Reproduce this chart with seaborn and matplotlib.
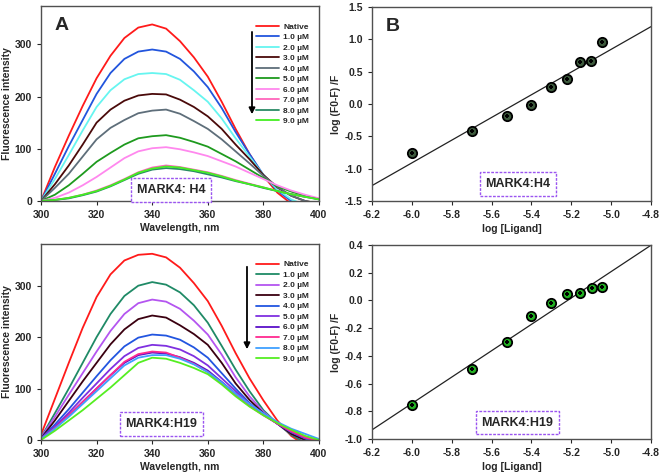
import matplotlib
matplotlib.use("Agg")
import matplotlib.pyplot as plt
import seaborn as sns
import numpy as np
import pandas as pd

### spectra : wavelength grid and intensities ###

wavelength = [300, 305, 310, 315, 320, 325, 330, 335, 340, 345, 350,
              355, 360, 365, 370, 375, 380, 385, 390, 395, 400]

conc_labels = ["Native", "1.0 µM", "2.0 µM", "3.0 µM", "4.0 µM",
               "5.0 µM", "6.0 µM", "7.0 µM", "8.0 µM", "9.0 µM"]

h4_native = [0, 65, 125, 182, 235, 278, 312, 332, 338, 330, 306, 275, 238, 190, 138, 90, 48, 16, -5, -20, -30]
h4_c1 = [0, 52, 105, 155, 205, 245, 272, 286, 290, 286, 272, 248, 218, 178, 132, 90, 50, 20, 0, -10, -20]
h4_c2 = [0, 42, 88, 135, 180, 212, 233, 243, 245, 243, 232, 212, 190, 158, 120, 85, 50, 22, 3, -8, -15]
h4_c3 = [0, 32, 68, 108, 150, 175, 192, 202, 205, 204, 194, 180, 162, 138, 108, 80, 50, 26, 10, 0, -5]
h4_c4 = [0, 25, 52, 85, 118, 140, 155, 168, 173, 175, 167, 153, 138, 118, 95, 72, 48, 27, 10, 0, -5]
h4_c5 = [0, 12, 30, 52, 75, 92, 108, 120, 124, 126, 121, 113, 104, 90, 76, 60, 44, 28, 18, 10, 3]
h4_c6 = [0, 6, 16, 30, 46, 64, 82, 95, 101, 103, 99, 93, 86, 76, 66, 54, 42, 30, 20, 12, 5]
h4_c7 = [0, 2, 6, 12, 20, 30, 42, 55, 64, 68, 65, 60, 55, 48, 40, 33, 26, 19, 13, 8, 4]
h4_c8 = [0, 2, 5, 11, 18, 28, 40, 52, 60, 63, 61, 57, 51, 45, 38, 32, 25, 19, 13, 8, 3]
h4_c9 = [0, 2, 6, 12, 19, 29, 41, 54, 62, 66, 64, 59, 54, 47, 39, 32, 26, 19, 13, 8, 3]

h19_native = [10, 80, 150, 218, 278, 322, 349, 360, 362, 355, 335, 305, 270, 222, 169, 120, 77, 38, 8, -10, -20]
h19_c1 = [5, 52, 100, 150, 200, 245, 280, 300, 307, 302, 287, 262, 228, 183, 137, 95, 58, 32, 10, -5, -15]
h19_c2 = [5, 45, 88, 130, 172, 212, 245, 266, 273, 269, 255, 232, 205, 166, 122, 85, 55, 32, 12, 0, -10]
h19_c3 = [3, 38, 76, 114, 150, 186, 215, 235, 242, 238, 223, 206, 185, 150, 110, 78, 52, 32, 12, 0, -8]
h19_c4 = [3, 30, 60, 92, 124, 155, 182, 199, 205, 203, 195, 180, 160, 130, 100, 72, 50, 32, 15, 3, -5]
h19_c5 = [3, 26, 53, 82, 110, 138, 163, 179, 185, 183, 176, 163, 145, 120, 95, 70, 50, 32, 16, 4, -3]
h19_c6 = [2, 23, 48, 74, 100, 126, 150, 165, 170, 168, 161, 150, 135, 113, 90, 68, 49, 32, 17, 5, -2]
h19_c7 = [2, 23, 48, 74, 100, 126, 152, 167, 172, 170, 160, 148, 132, 110, 88, 66, 48, 32, 17, 5, -2]
h19_c8 = [2, 22, 45, 70, 95, 120, 145, 160, 165, 165, 158, 147, 132, 112, 90, 70, 52, 35, 22, 12, 2]
h19_c9 = [0, 18, 38, 58, 80, 102, 126, 150, 160, 158, 150, 140, 128, 108, 85, 65, 48, 33, 20, 8, 0]

h4_colors = ["#ff1a1a", "#2255dd", "#66f5f0", "#4a0a0a", "#5e6e7a",
             "#1e9a1e", "#ff88ee", "#ff66bb", "#2a8a66", "#44ee22"]
h19_colors = ["#ff1a1a", "#1f8a66", "#b455f0", "#3a0010", "#2255e0",
              "#7f30e0", "#5a10c8", "#ff2a90", "#3fa0ff", "#55ee22"]

### double log plots ###

h4_logL = [-6.0, -5.7, -5.52, -5.4, -5.3, -5.22, -5.155, -5.1, -5.046]
h4_logF = [-0.76, -0.41, -0.18, -0.01, 0.26, 0.39, 0.65, 0.67, 0.96]
h19_logL = [-6.0, -5.7, -5.52, -5.4, -5.3, -5.22, -5.155, -5.097, -5.046]
h19_logF = [-0.755, -0.495, -0.30, -0.115, -0.02, 0.045, 0.055, 0.09, 0.095]

sns.set_style("ticks")
plt.rcParams["font.family"] = ["Liberation Sans", "DejaVu Sans"]
plt.rcParams["font.weight"] = "bold"
plt.rcParams["axes.labelweight"] = "bold"
plt.rcParams["axes.unicode_minus"] = False
plt.rcParams["axes.edgecolor"] = "#505050"
plt.rcParams["axes.linewidth"] = 1.0
plt.rcParams["xtick.major.size"] = 3
plt.rcParams["ytick.major.size"] = 3
plt.rcParams["xtick.labelsize"] = 7.5
plt.rcParams["ytick.labelsize"] = 7.5
plt.rcParams["axes.labelsize"] = 7.5

fig = plt.figure(figsize=(6.61, 4.74), dpi=100)
axA1 = fig.add_axes([0.062, 0.576, 0.4206, 0.411])
axB1 = fig.add_axes([0.5628, 0.576, 0.422, 0.409])
axA2 = fig.add_axes([0.062, 0.0717, 0.4206, 0.4135])
axB2 = fig.add_axes([0.5628, 0.0738, 0.422, 0.4093])

box_style = dict(boxstyle="square,pad=0.45", fc="white", ec="#9b55f0", lw=1.0, ls=(0, (2, 1)))


def spectra_panel(ax, series, colors, ymax, tag, tag_pos, arrow_x, arrow_y):
    rows = []
    for lab, vals in zip(conc_labels, series):
        for w, v in zip(wavelength, vals):
            rows.append((w, v, lab))
    df = pd.DataFrame(rows, columns=["WL", "I", "Conc"])
    sns.lineplot(data=df, x="WL", y="I", hue="Conc", hue_order=conc_labels,
                 palette=dict(zip(conc_labels, colors)), sort=False,
                 linewidth=1.3, ax=ax)
    ax.set_xlim(300, 400)
    ax.set_ylim(0, ymax)
    ax.set_xticks(range(300, 401, 20))
    ax.set_yticks([0, 100, 200, 300])
    ax.set_xlabel("Wavelength, nm", labelpad=2)
    ax.set_ylabel("Fluorescence intensity", labelpad=2)
    sns.move_legend(ax, "upper right", bbox_to_anchor=(0.985, 0.945), frameon=False,
                    title=None, fontsize=6, handlelength=2.8, handletextpad=0.5,
                    labelspacing=0.32, borderaxespad=0.3)
    ax.annotate("", xy=(arrow_x, arrow_y[1]), xytext=(arrow_x, arrow_y[0]),
                xycoords="axes fraction",
                arrowprops=dict(arrowstyle="-|>", color="black", lw=1.3,
                                mutation_scale=9))
    ax.text(tag_pos[0], tag_pos[1], tag, transform=ax.transAxes, ha="center",
            va="center", fontsize=9, fontweight="bold", bbox=box_style)


def hill_panel(ax, x, y, fill, ylim, yticks, tag, tag_pos):
    ax.set_xlim(-6.2, -4.8)
    ax.set_ylim(*ylim)
    sns.regplot(x=x, y=y, scatter=False, ci=None, truncate=False, color="#222222",
                line_kws={"lw": 0.9}, ax=ax)
    sns.scatterplot(x=x, y=y, s=45, color=fill, edgecolor="black", linewidth=1.3, ax=ax, zorder=3)
    sns.scatterplot(x=x, y=y, s=10, marker="P", color="black", linewidth=0, ax=ax, zorder=4)
    ax.set_xlim(-6.2, -4.8)
    ax.set_ylim(*ylim)
    ax.set_xticks(np.arange(-6.2, -4.79, 0.2))
    ax.set_xticklabels(["%.1f" % v for v in np.arange(-6.2, -4.79, 0.2)])
    ax.set_yticks(yticks)
    ax.set_yticklabels(["%.1f" % v for v in yticks])
    ax.set_xlabel("log [Ligand]", labelpad=3)
    ax.set_ylabel("log (F0-F) /F", labelpad=3)
    ax.text(tag_pos[0], tag_pos[1], tag, transform=ax.transAxes, ha="center",
            va="center", fontsize=9, fontweight="bold", bbox=box_style)


spectra_panel(axA1, [h4_native, h4_c1, h4_c2, h4_c3, h4_c4, h4_c5, h4_c6, h4_c7, h4_c8, h4_c9],
              h4_colors, 373, "MARK4: H4", (0.468, 0.056), 0.759, (0.882, 0.431))
spectra_panel(axA2, [h19_native, h19_c1, h19_c2, h19_c3, h19_c4, h19_c5, h19_c6, h19_c7, h19_c8, h19_c9],
              h19_colors, 381, "MARK4:H19", (0.433, 0.082), 0.741, (0.898, 0.449))

hill_panel(axB1, h4_logL, h4_logF, "#3d5a3d", (-1.5, 1.5), [-1.5, -1.0, -0.5, 0.0, 0.5, 1.0, 1.5],
           "MARK4:H4", (0.523, 0.088))
hill_panel(axB2, h19_logL, h19_logF, "#22b022", (-1.0, 0.4), [-1.0, -0.8, -0.6, -0.4, -0.2, 0.0, 0.2, 0.4],
           "MARK4:H19", (0.521, 0.085))

axA1.text(0.05, 0.9, "A", transform=axA1.transAxes, fontsize=14, fontweight="bold", va="center")
axB1.text(0.05, 0.9, "B", transform=axB1.transAxes, fontsize=14, fontweight="bold", va="center")

fig.savefig("out.png", dpi=100)
